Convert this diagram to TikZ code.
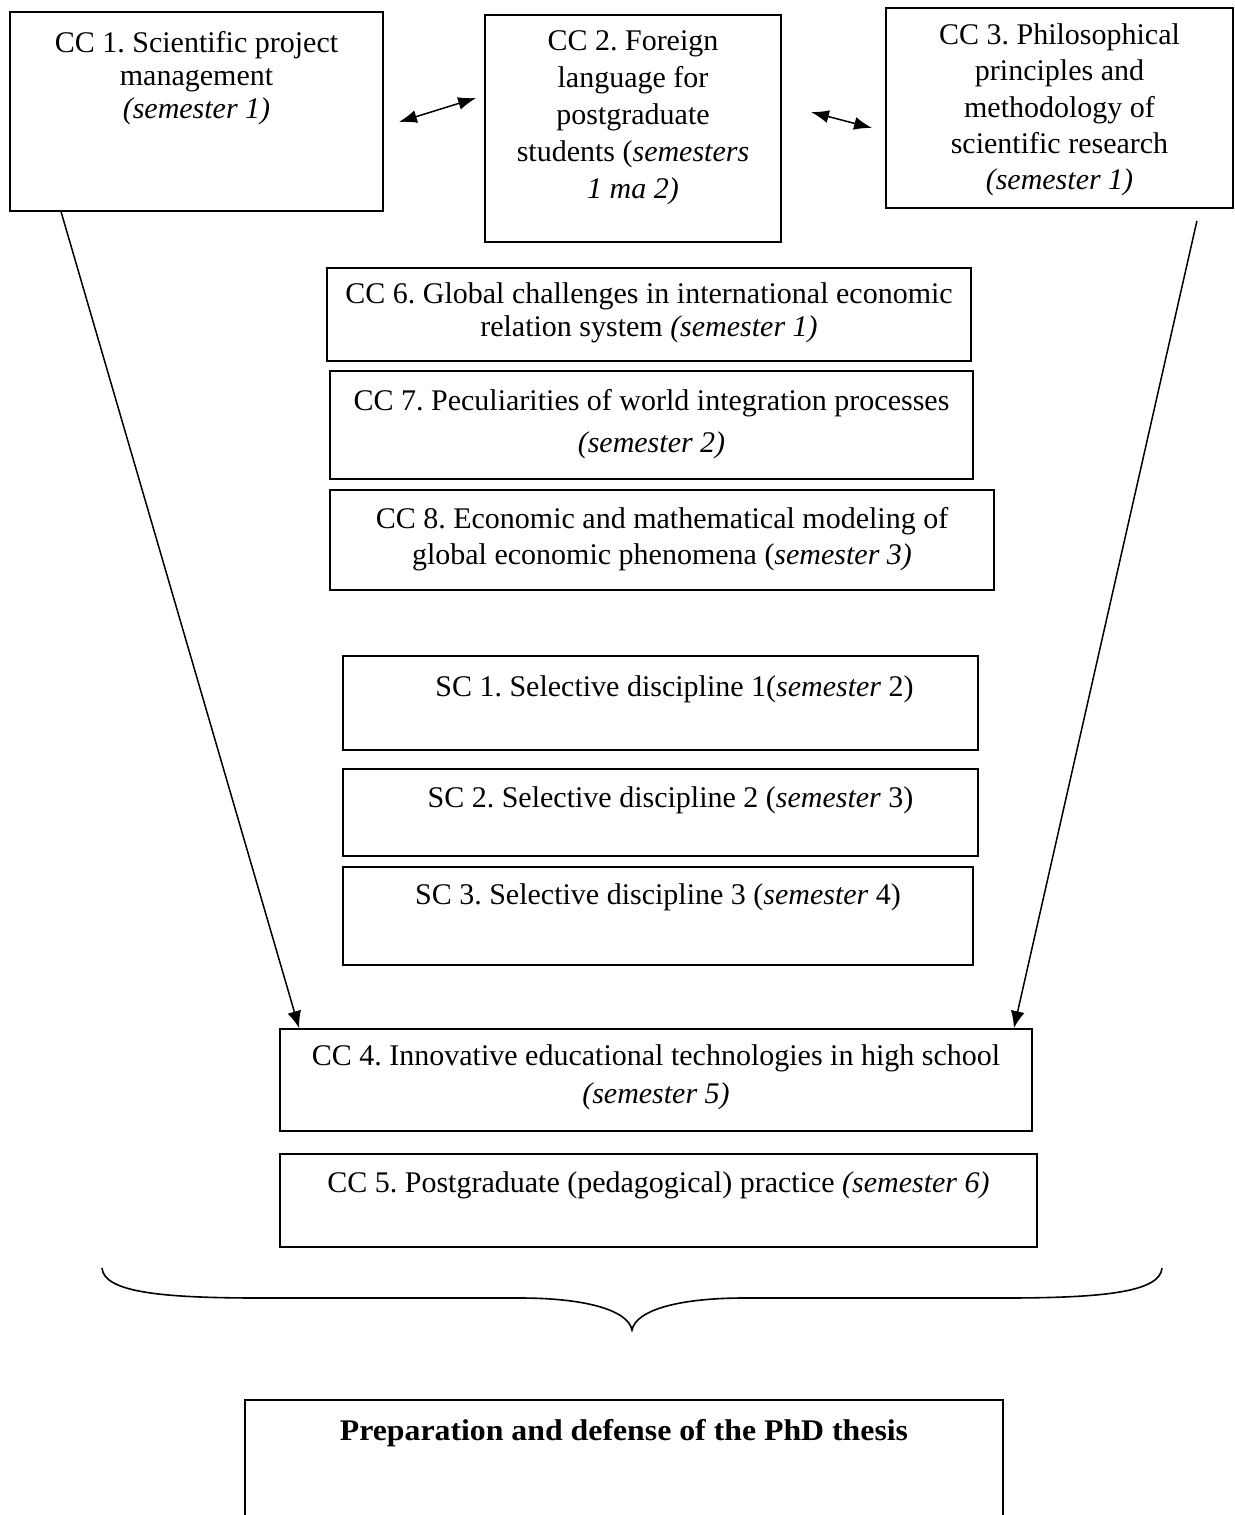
\documentclass[tikz,border=0pt]{standalone}
\usepackage{fontspec}
\setmainfont{Liberation Serif}
\usetikzlibrary{positioning,arrows.meta}
\frenchspacing

\begin{document}
\begin{tikzpicture}[x=0.5pt,y=-0.5pt]
        \tikzstyle{box_style} = [draw=black,line width=0.9pt,inner sep=0pt]
        \tikzstyle{text_style} = [inner sep=0pt,align=center,font=\fontsize{15}{16.5}\selectfont]
        \tikzstyle{edge_style} = [draw=black,line width=0.75pt,-{Latex[length=8.5pt,width=7pt]}]
        \tikzstyle{both_style} = [draw=black,line width=0.75pt,{Latex[length=9pt,width=6.5pt]}-{Latex[length=9pt,width=6.5pt]}]
        \useasboundingbox (0,0) rectangle (1235,1515);
        % top row
        \node[box_style,minimum width=186.5pt,minimum height=99.5pt] (cc1) at (196.5,111.5) {};
        \node[box_style,minimum width=148pt,minimum height=113.5pt] (cc2) at (633,128.5) {};
        \node[box_style,minimum width=173.5pt,minimum height=100pt] (cc3) at (1059.5,108) {};
        \node[text_style,below=10pt of cc1.north] (t1) {CC 1. Scientific project\\ management\\ \textit{(semester 1)}};
        \node[text_style,font=\fontsize{15}{18.5}\selectfont,below=8pt of cc2.north] (t2) {CC 2. Foreign\\ language for\\ postgraduate\\ students (\textit{semesters}\\ \textit{1 ma 2)}};
        \node[text_style,font=\fontsize{15}{18.2}\selectfont,below=8pt of cc3.north] (t3) {CC 3. Philosophical\\ principles and\\ methodology of\\ scientific research\\ \textit{(semester 1)}};
        % middle column
        \node[box_style,minimum width=322pt,minimum height=46.5pt] (cc6) at (649,314.5) {};
        \node[box_style,minimum width=321.5pt,minimum height=54pt] (cc7) at (651.5,425) {};
        \node[box_style,minimum width=332pt,minimum height=50pt] (cc8) at (662,540) {};
        \node[text_style,below=7.5pt of cc6.north] (t6) {CC 6. Global challenges in international economic\\ relation system \textit{(semester 1)}};
        \node[text_style,font=\fontsize{15}{21}\selectfont,below=9.5pt of cc7.north] (t7) {CC 7. Peculiarities of world integration processes\\ \textit{(semester 2)}};
        \node[text_style,font=\fontsize{15}{18}\selectfont,below=9pt of cc8.north] (t8) {CC 8. Economic and mathematical modeling of\\ global economic phenomena (\textit{semester 3)}};
        \node[box_style,minimum width=317.5pt,minimum height=47pt] (sc1) at (660.5,703) {};
        \node[box_style,minimum width=317.5pt,minimum height=43.5pt] (sc2) at (660.5,812.5) {};
        \node[box_style,minimum width=315pt,minimum height=49pt] (sc3) at (658,916) {};
        \node[text_style,below=10pt of sc1.north,xshift=7pt] (s1) {SC 1. Selective discipline 1(\textit{semester} 2)};
        \node[text_style,below=9pt of sc2.north,xshift=5pt] (s2) {SC 2. Selective discipline 2 (\textit{semester} 3)};
        \node[text_style,below=8.5pt of sc3.north] (s3) {SC 3. Selective discipline 3 (\textit{semester} 4)};
        % bottom
        \node[box_style,minimum width=376pt,minimum height=51pt] (cc4) at (656,1080) {};
        \node[box_style,minimum width=378.5pt,minimum height=46.5pt] (cc5) at (658.5,1200.5) {};
        \node[text_style,font=\fontsize{15}{19}\selectfont,below=8pt of cc4.north] (t4) {CC 4. Innovative educational technologies in high school\\ \textit{(semester 5)}};
        \node[text_style,below=9pt of cc5.north] (t5) {CC 5. Postgraduate (pedagogical) practice \textit{(semester 6)}};
        \node[box_style,minimum width=379pt,minimum height=65pt] (fin) at (624,1465) {};
        \node[text_style,below=10pt of fin.north] (tf) {\addfontfeature{FakeStretch=1.06}\textbf{Preparation and defense of the PhD thesis}};
        % arrows
        \draw[both_style] ([xshift=7.5pt,yshift=-5.25pt]cc1.east) -- ([xshift=-4pt,yshift=15.25pt]cc2.west);
        \draw[both_style] ([xshift=14.5pt,yshift=8.25pt]cc2.east) -- ([xshift=-6.5pt,yshift=-10pt]cc3.west);
        \draw[edge_style] ([xshift=26pt]cc1.south west) -- ([xshift=10pt]cc4.north west);
        \draw[edge_style] ([xshift=-18.5pt,yshift=-6pt]cc3.south east) -- ([xshift=-9.5pt]cc4.north east);
        % brace
        \draw[line width=0.8pt] (102,1268) .. controls (104,1292) and (160,1298) .. (260,1298)
          -- (520,1298) .. controls (585,1298) and (628,1310) .. (632,1330)
          .. controls (636,1310) and (679,1298) .. (744,1298)
          -- (1004,1298) .. controls (1104,1298) and (1160,1292) .. (1162,1268);
      \end{tikzpicture}
\end{document}
